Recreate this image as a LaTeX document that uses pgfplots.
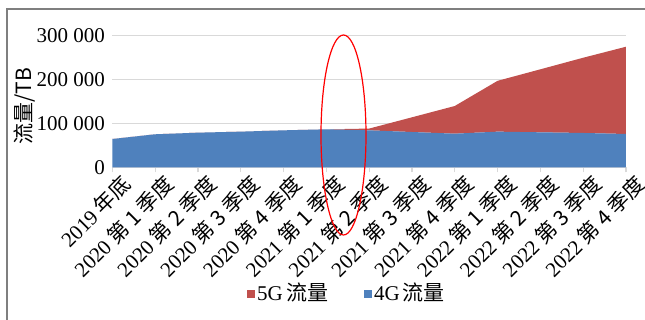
\documentclass[border=0pt]{standalone}
\usepackage{fontspec}
\setmainfont{Liberation Serif}
\newfontfamily\cjk{Noto Sans CJK SC}
\usepackage{pgfplots}
\pgfplotsset{compat=1.18}
\definecolor{cfour}{HTML}{4F81BD}
\definecolor{cfive}{HTML}{C0504D}
\definecolor{gridc}{HTML}{D9D9D9}
\definecolor{framec}{HTML}{7F7F7F}
\newcommand{\gp}{\hspace{0.22em}}
\begin{document}
\fontsize{10.5pt}{12pt}\selectfont
\begin{tikzpicture}
\path[use as bounding box] (0,0) rectangle (322.5pt,160pt);
\draw[framec, line width=0.6pt] (3.5pt,0) -- (3.5pt,155.5pt) -- (323pt,155.5pt);
\begin{axis}[
  at={(56.15pt,76.35pt)}, anchor=south west,
  scale only axis, width=256.85pt, height=66pt,
  xmin=0, xmax=12, ymin=0, ymax=300000,
  enlargelimits=false,
  scaled y ticks=false,
  stack plots=y,
  axis x line*=bottom, axis y line*=left,
  y axis line style={draw=none},
  x axis line style={draw=gridc, line width=0.6pt},
  xtick={0,...,12},
  xtick style={draw=gridc, line width=0.6pt},
  tick align=outside,
  major tick length=2.5pt,
  ytick style={draw=none},
  ytick={0,100000,200000,300000},
  yticklabels={0,100 000,200 000,300 000},
  yticklabel style={inner sep=0pt, xshift=-1pt},
  ymajorgrids, grid style={draw=gridc, line width=0.6pt},
  xticklabels={
    2019\gp\cjk{年底},
    2020\gp\cjk{第}\gp1\gp\cjk{季度},
    2020\gp\cjk{第}\gp2\gp\cjk{季度},
    2020\gp\cjk{第}\gp3\gp\cjk{季度},
    2020\gp\cjk{第}\gp4\gp\cjk{季度},
    2021\gp\cjk{第}\gp1\gp\cjk{季度},
    2021\gp\cjk{第}\gp2\gp\cjk{季度},
    2021\gp\cjk{第}\gp3\gp\cjk{季度},
    2021\gp\cjk{第}\gp4\gp\cjk{季度},
    2022\gp\cjk{第}\gp1\gp\cjk{季度},
    2022\gp\cjk{第}\gp2\gp\cjk{季度},
    2022\gp\cjk{第}\gp3\gp\cjk{季度},
    2022\gp\cjk{第}\gp4\gp\cjk{季度}},
  xticklabel style={rotate=45, anchor=north east, inner sep=0pt, xshift=2.5pt, yshift=-3pt},
  ylabel={\cjk{流量}/TB},
  every axis y label/.style={at={(axis description cs:-0.171,0.464)}, rotate=90, anchor=center},
  legend columns=2,
  reverse legend,
  legend style={at={(axis description cs:0.457,-0.958)}, anchor=center, draw=none, fill=none,
    /tikz/every even column/.append style={column sep=17pt},
    legend cell align=left, inner sep=0pt},
  legend image code/.code={\fill[#1] (0pt,-2pt) rectangle (4pt,2pt);},
  every axis legend/.append style={nodes={inner sep=1pt}},
  tick label style={font=\fontsize{10.5pt}{12pt}\selectfont},
  label style={font=\fontsize{10.5pt}{12pt}\selectfont},
]
\addplot[fill=cfour, draw=none] coordinates {
 (0,64300) (1,75000) (2,78700) (3,81000) (4,84000) (5,86300) (6,84000)
 (7,80200) (8,76400) (9,81000) (10,79500) (11,78000) (12,75700)} \closedcycle;
\addlegendentry{4G\hspace{0.15em}\cjk{流量}}
\addplot[fill=cfive, draw=none] coordinates {
 (0,0) (1,0) (2,0) (3,0) (4,0) (5,0) (6,4000)
 (7,33400) (8,62900) (9,115500) (10,143200) (11,171000) (12,198300)} \closedcycle;
\addlegendentry{5G\hspace{0.15em}\cjk{流量}}
\end{axis}
\draw[red, line width=0.6pt] (171.75pt,92.5pt) ellipse [x radius=11.25pt, y radius=50pt];
\end{tikzpicture}
\end{document}
